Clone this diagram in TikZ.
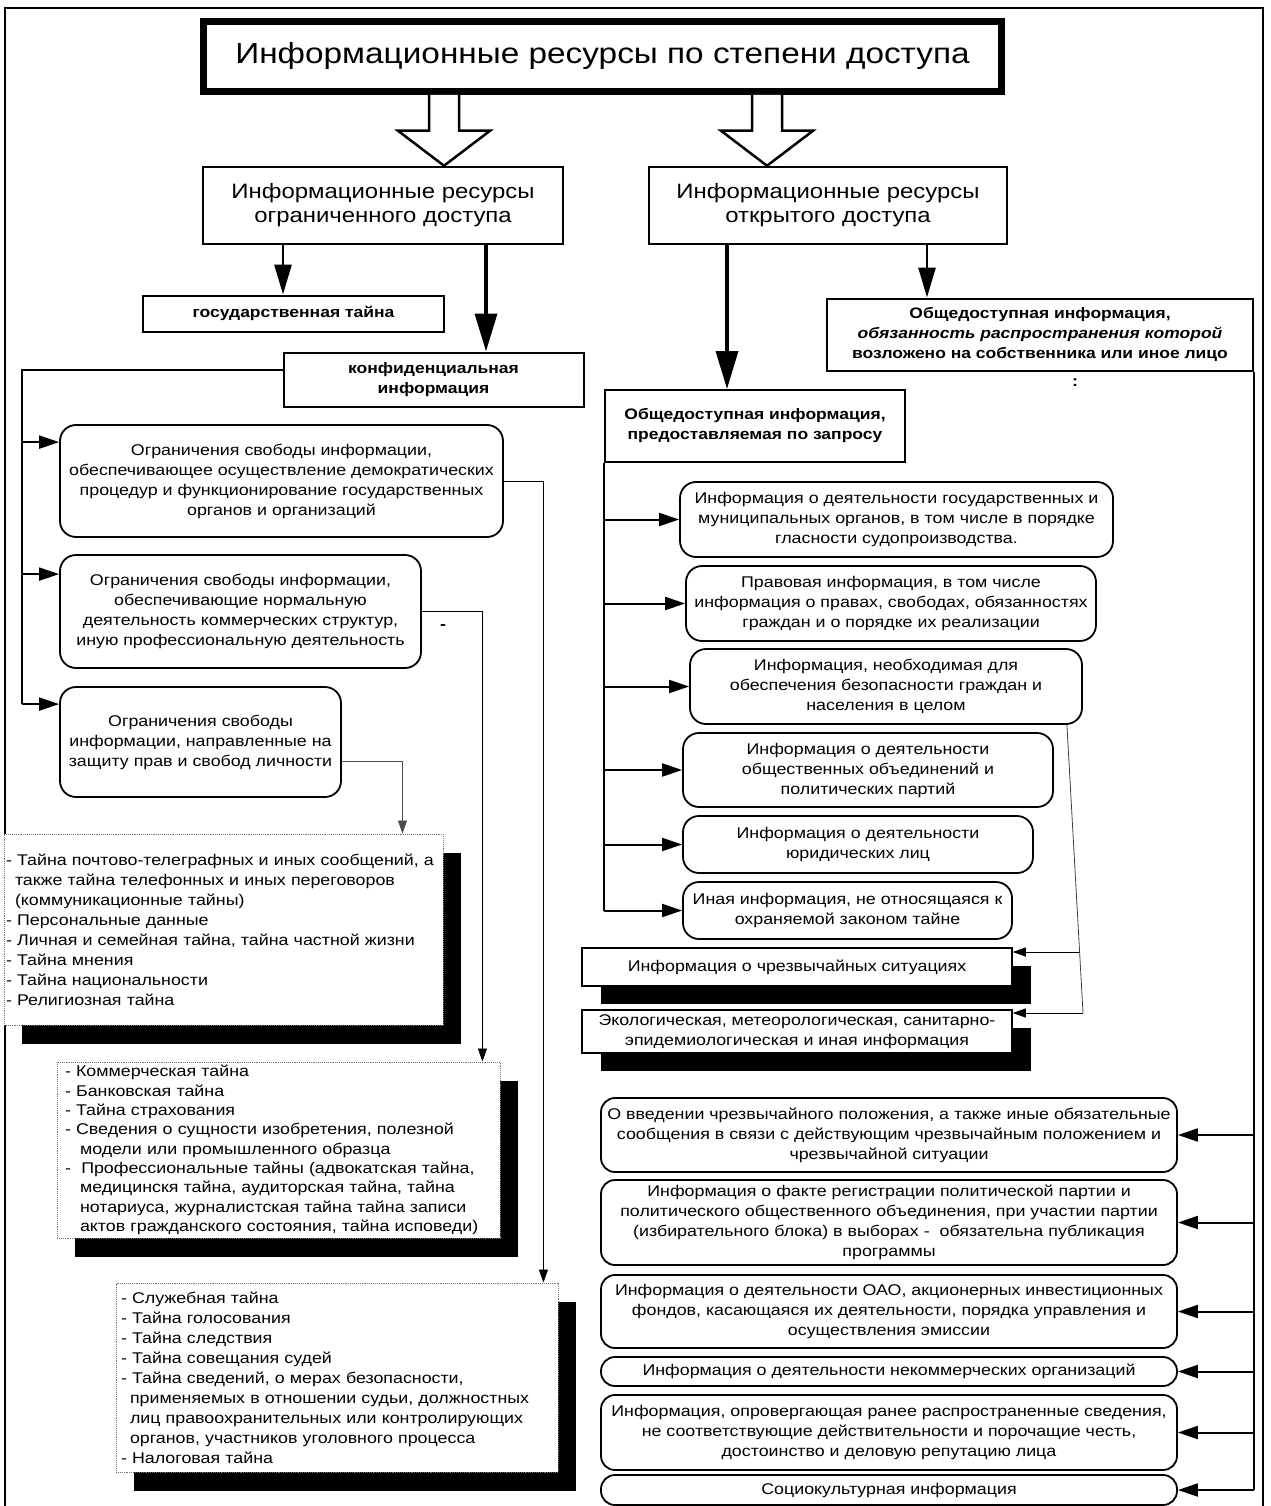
\documentclass[tikz,border=0pt]{standalone}
\usepackage{fontspec}
\setmainfont{Liberation Sans}[FakeStretch=1.15]
\usetikzlibrary{arrows.meta,shadows}

\begin{document}
\begin{tikzpicture}[x=1pt, y=-1pt,
    every node/.style={inner sep=0pt, align=center, font=\fontsize{15.5}{20}\selectfont},
    titlebox/.style={draw, line width=7pt, font=\fontsize{29}{34}\selectfont},
    headbox/.style={draw, line width=2.5pt, font=\fontsize{20.8}{24}\selectfont},
    labelbox/.style={draw, line width=2pt, font=\bfseries\fontsize{15.2}{20}\selectfont},
    roundbox/.style={draw, line width=1.8pt, rounded corners=16pt},
    pillbox/.style={draw, line width=1.8pt, rounded corners=14pt},
    listbox/.style={draw=black!55, densely dotted, line width=0.9pt, fill=white, align=left,
        drop shadow={fill=black, opacity=1, shadow xshift=18pt, shadow yshift=-19pt}},
    shadebox/.style={draw, line width=1.5pt, fill=white,
        drop shadow={fill=black, opacity=1, shadow xshift=19pt, shadow yshift=-18pt}},
    bus/.style={line width=2pt},
    hollow/.style={line width=2.5pt, fill=white, line join=miter},
    bigtip/.style={line width=3.5pt, -{Triangle[length=38pt, width=22pt]}},
    midtip/.style={line width=2.8pt, -{Triangle[length=30pt, width=17pt]}},
    smalltip/.style={line width=2pt, -{Triangle[length=20pt, width=13pt]}},
    thintip/.style={line width=0.8pt, -{Triangle[length=13pt, width=9pt]}}
]
    \useasboundingbox (0,0) rectangle (1270,1506);
    \clip (0,0) rectangle (1270,1506);
    \draw[line width=2pt] (5,1530) -- (5,8) -- (1263,8) -- (1263,1530);

    \node[titlebox, minimum width=798, minimum height=70] (title) at (602.5,56.5)
        {Информационные ресурсы по степени доступа};
    \node[headbox, minimum width=360, minimum height=77] (ogr) at (383,205.5)
        {Информационные ресурсы\\ограниченного доступа};
    \node[headbox, minimum width=358, minimum height=77] (otk) at (828,205.5)
        {Информационные ресурсы\\открытого доступа};

    \coordinate (lhead) at (444,0);
    \coordinate (rhead) at (767,0);
    \coordinate (la) at (lhead |- title.south);
    \coordinate (lt) at (lhead |- ogr.north);
    \coordinate (ra) at (rhead |- title.south);
    \coordinate (rt) at (rhead |- otk.north);
    \draw[hollow] ([xshift=-15pt]la) -- ([shift={(-15,-35)}]lt) -- ([shift={(-46,-35)}]lt) -- (lt)
        -- ([shift={(46,-35)}]lt) -- ([shift={(15,-35)}]lt) -- ([xshift=15pt]la);
    \draw[hollow] ([xshift=-15pt]ra) -- ([shift={(-15,-35)}]rt) -- ([shift={(-46,-35)}]rt) -- (rt)
        -- ([shift={(46,-35)}]rt) -- ([shift={(15,-35)}]rt) -- ([xshift=15pt]ra);

    % restricted access
    \node[labelbox, minimum width=301, minimum height=36] (gos)  at (293.5,313.5) {государственная тайна};
    \node[labelbox, minimum width=300, minimum height=54] (konf) at (433.5,379.5) {конфиденциальная\\информация};

    \node[roundbox, minimum width=443, minimum height=112] (ogr1) at (281.5,481)
        {Ограничения свободы информации,\\обеспечивающее осуществление демократических\\процедур и функционирование государственных\\органов и организаций};
    \node[roundbox, minimum width=361, minimum height=113] (ogr2) at (240.5,611.5)
        {Ограничения свободы информации,\\обеспечивающие нормальную\\деятельность коммерческих структур,\\иную профессиональную деятельность};
    \node[roundbox, minimum width=281, minimum height=110] (ogr3) at (200.5,742)
        {Ограничения свободы\\информации, направленные на\\защиту прав и свобод личности};

    \node[listbox, text width=435, inner xsep=2pt, minimum height=191] (list1) at (223.5,929.5)
        {- Тайна почтово-телеграфных и иных сообщений, а\\
         \hspace*{9pt}также тайна телефонных и иных переговоров\\
         \hspace*{9pt}(коммуникационные тайны)\\
         - Персональные данные\\
         - Личная и семейная тайна, тайна частной жизни\\
         - Тайна мнения\\
         - Тайна национальности\\
         - Религиозная тайна};
    \node[listbox, text width=427, inner xsep=8pt, minimum height=176,
          font=\fontsize{15.5}{19.3}\selectfont] (list2) at (278.5,1150)
        {- Коммерческая тайна\\
         - Банковская тайна\\
         - Тайна страхования\\
         - Сведения о сущности изобретения, полезной\\
         \hspace*{15pt}модели или промышленного образца\\
         - \ Профессиональные тайны (адвокатская тайна,\\
         \hspace*{15pt}медицинскя тайна, аудиторская тайна, тайна\\
         \hspace*{15pt}нотариуса, журналистская тайна тайна записи\\
         \hspace*{15pt}актов гражданского состояния, тайна исповеди)};
    \node[listbox, text width=432, inner xsep=5pt, minimum height=189] (list3) at (337,1377.5)
        {- Служебная тайна\\
         - Тайна голосования\\
         - Тайна следствия\\
         - Тайна совещания судей\\
         - Тайна сведений, о мерах безопасности,\\
         \hspace*{9pt}применяемых в отношении судьи, должностных\\
         \hspace*{9pt}лиц правоохранительных или контролирующих\\
         \hspace*{9pt}органов, участников уголовного процесса\\
         - Налоговая тайна};

    % open access
    \node[labelbox, minimum width=426, minimum height=72] (obyaz) at (1040,334.5)
        {Общедоступная информация,\\\textit{обязанность распространения которой}\\возложено на собственника или иное лицо};
    \node[labelbox, minimum width=300, minimum height=72] (zapros) at (755,426)
        {Общедоступная информация,\\предоставляемая по запросу};
    \node (speck) at (1075,383) {\bfseries :};
    \node (dash) at (443,627) {\bfseries -};

    \node[roundbox, minimum width=433, minimum height=75] (r1) at (896.5,519.5)
        {Информация о деятельности государственных и\\муниципальных органов, в том числе в порядке\\гласности судопроизводства.};
    \node[roundbox, minimum width=410, minimum height=75] (r2) at (891,603.5)
        {Правовая информация, в том числе\\информация о правах, свободах, обязанностях\\граждан и о порядке их реализации};
    \node[roundbox, minimum width=392, minimum height=75] (r3) at (886,686.5)
        {Информация, необходимая для\\обеспечения безопасности граждан и\\населения в целом};
    \node[roundbox, minimum width=370, minimum height=74] (r4) at (868,770)
        {Информация о деятельности\\общественных объединений и\\политических партий};
    \node[roundbox, minimum width=350, minimum height=57] (r5) at (858,844.5)
        {Информация о деятельности\\юридических лиц};
    \node[roundbox, minimum width=329, minimum height=57] (r6) at (847.5,910.5)
        {Иная информация, не относящаяся к\\охраняемой законом тайне};

    \node[shadebox, minimum width=430, minimum height=38] (chs) at (797,967)
        {Информация о чрезвычайных ситуациях};
    \node[shadebox, minimum width=430, minimum height=43] (eco) at (797,1031.5)
        {Экологическая, метеорологическая, санитарно-\\эпидемиологическая и иная информация};

    \node[pillbox, minimum width=576, minimum height=74] (b1) at (889,1135)
        {О введении чрезвычайного положения, а также иные обязательные\\сообщения в связи с действующим чрезвычайным положением и\\чрезвычайной ситуации};
    \node[pillbox, minimum width=576, minimum height=85] (b2) at (889,1222.5)
        {Информация о факте регистрации политической партии и\\политического общественного объединения, при участии партии\\(избирательного блока) в выборах - \ обязательна публикация\\программы};
    \node[pillbox, minimum width=576, minimum height=73] (b3) at (889,1311.5)
        {Информация о деятельности ОАО, акционерных инвестиционных\\фондов, касающаяся их деятельности, порядка управления и\\осуществления эмиссии};
    \node[pillbox, minimum width=576, minimum height=29] (b4) at (889,1371.5)
        {Информация о деятельности некоммерческих организаций};
    \node[pillbox, minimum width=576, minimum height=75] (b5) at (889,1432.5)
        {Информация, опровергающая ранее распространенные сведения,\\не соответствующие действительности и порочащие честь,\\достоинство и деловую репутацию лица};
    \node[pillbox, minimum width=576, minimum height=30] (b6) at (889,1490)
        {Социокультурная информация};

    % connectors
    \coordinate (gosx)  at (283,0);
    \coordinate (konfx) at (486,0);
    \coordinate (zapx)  at (727,0);
    \coordinate (obyx)  at (927,0);
    \draw[midtip] (gosx |- ogr.south)  -- (gosx |- gos.north);
    \draw[bigtip] (konfx |- ogr.south) -- (konfx |- konf.north);
    \draw[bigtip] (zapx |- otk.south)  -- (zapx |- zapros.north);
    \draw[midtip] (obyx |- otk.south)  -- (obyx |- obyaz.north);

    \coordinate (lbus) at (22,0);
    \coordinate (in1) at ([yshift=-18pt]ogr1.north west);
    \coordinate (in2) at ([yshift=-20pt]ogr2.north west);
    \coordinate (in3) at ([yshift=-18pt]ogr3.north west);
    \draw[bus] ([yshift=10pt]konf.west) -| (lbus |- in3);
    \draw[smalltip] (lbus |- in1) -- (in1);
    \draw[smalltip] (lbus |- in2) -- (in2);
    \draw[smalltip] (lbus |- in3) -- (in3);

    \draw[thintip] (ogr1.east) -| ([xshift=-15pt]list3.north east);
    \draw[thintip] (ogr2.east) -| ([xshift=-18pt]list2.north east);
    \draw[thintip, black!70] ([yshift=-19pt]ogr3.east) -| ([xshift=-41pt]list1.north east);

    \draw[bus] (zapros.south west) -- (zapros.south west |- r6.west);
    \draw[smalltip] (zapros.south west |- r1.west) -- (r1.west);
    \draw[smalltip] (zapros.south west |- r2.west) -- (r2.west);
    \draw[smalltip] (zapros.south west |- r3.west) -- (r3.west);
    \draw[smalltip] (zapros.south west |- r4.west) -- (r4.west);
    \draw[smalltip] (zapros.south west |- r5.west) -- (r5.west);
    \draw[smalltip] (zapros.south west |- r6.west) -- (r6.west);

    \coordinate (ecobend) at (1083,1013);
    \coordinate (chsbend) at (1079,952);
    \draw[line width=0.8pt, black!75] ([xshift=-16pt]r3.south east) -- (ecobend);
    \draw[thintip] (ecobend) -- (ecobend -| eco.east);
    \draw[thintip] (chsbend) -- (chsbend -| chs.east);

    \draw[bus] (obyaz.south east) -- (obyaz.south east |- b6.east);
    \draw[smalltip] (obyaz.south east |- b1.east) -- (b1.east);
    \draw[smalltip] (obyaz.south east |- b2.east) -- (b2.east);
    \draw[smalltip] (obyaz.south east |- b3.east) -- (b3.east);
    \draw[smalltip] (obyaz.south east |- b4.east) -- (b4.east);
    \draw[smalltip] (obyaz.south east |- b5.east) -- (b5.east);
    \draw[smalltip] (obyaz.south east |- b6.east) -- (b6.east);
\end{tikzpicture}
\end{document}
